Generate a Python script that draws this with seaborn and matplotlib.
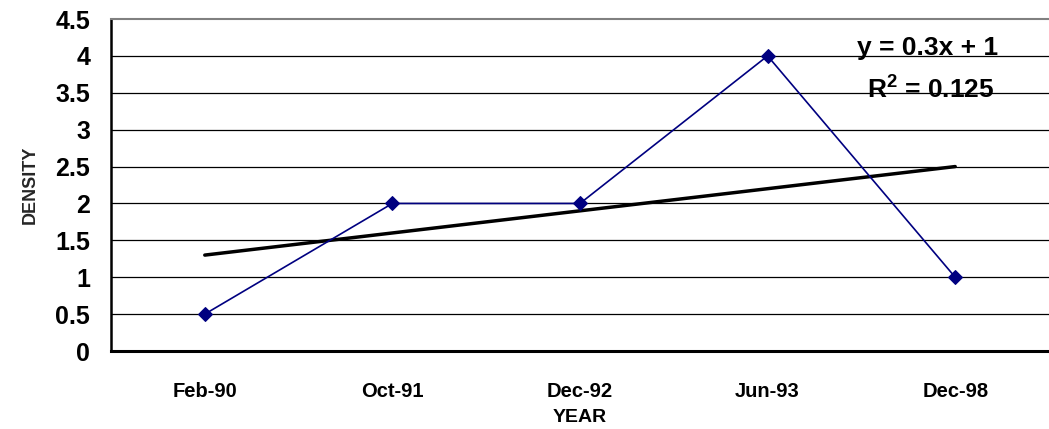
import numpy as np
import pandas as pd
from matplotlib import pyplot as plt
from matplotlib.ticker import FixedLocator, FixedFormatter
import seaborn as sns

sns.set_style("white")
plt.rcParams['font.family'] = ['Liberation Sans', 'DejaVu Sans']
plt.rcParams['font.weight'] = 'bold'
plt.rcParams['text.color'] = 'black'
plt.rcParams['axes.labelcolor'] = 'black'
plt.rcParams['xtick.color'] = 'black'
plt.rcParams['ytick.color'] = 'black'
plt.rcParams['mathtext.fontset'] = 'custom'
plt.rcParams['mathtext.bf'] = 'Liberation Sans:bold'
plt.rcParams['mathtext.rm'] = 'Liberation Sans:bold'
plt.rcParams['mathtext.default'] = 'bf'

years = ["Feb-90", "Oct-91", "Dec-92", "Jun-93", "Dec-98"]
density = [0.5, 2, 2, 4, 1]
pos = np.arange(1, len(years) + 1)

df = pd.DataFrame({"pos": pos, "DENSITY": density})

fig = plt.figure(figsize=(10.49, 4.29), dpi=100)
ax = fig.add_axes([0.1058, 0.1818, 0.8942, 0.7739])

# gridlines
for yv in np.arange(0.5, 4.5, 0.5):
    ax.axhline(yv, color="black", lw=0.9, zorder=0)

sns.lineplot(data=df, x="pos", y="DENSITY", color="#000080", lw=1.2,
             marker="D", markersize=7, markeredgecolor="#000080", ax=ax, zorder=3)

# linear trendline
sns.regplot(data=df, x="pos", y="DENSITY", scatter=False, ci=None, truncate=True,
            line_kws={"color": "black", "lw": 2.5}, ax=ax)

slope, intercept = np.polyfit(pos, density, 1)
r2 = np.corrcoef(pos, density)[0, 1] ** 2
ax.text(0.871, 0.913, f"y = {slope:.1f}x + {intercept:.0f}", transform=ax.transAxes,
        ha="center", va="center", fontsize=19, fontweight="bold")
ax.text(0.874, 0.786, f"R$^2$ = {r2:.3f}", transform=ax.transAxes,
        ha="center", va="center", fontsize=19, fontweight="bold")

ax.set_xlim(0.5, 5.5)
ax.set_ylim(0, 4.5)
ax.set_yticks(np.arange(0, 4.51, 0.5))
ax.set_yticklabels([f"{v:g}" for v in np.arange(0, 4.51, 0.5)], fontsize=18, fontweight="bold")

ax.xaxis.set_major_locator(FixedLocator(np.arange(0.5, 5.6, 1)))
ax.xaxis.set_major_formatter(FixedFormatter([""] * 6))
ax.xaxis.set_minor_locator(FixedLocator(pos))
ax.xaxis.set_minor_formatter(FixedFormatter(years))
ax.tick_params(axis="x", which="major", direction="out", length=5, width=1, color="black")
ax.tick_params(axis="x", which="minor", length=0, pad=22, labelsize=14.5)
ax.tick_params(axis="y", direction="out", length=9, width=1.2, color="black", pad=6)
for lab in ax.get_xticklabels(minor=True):
    lab.set_fontweight("bold")

ax.set_xlabel("YEAR", fontsize=14, fontweight="bold", labelpad=6)
ax.set_ylabel("DENSITY", fontsize=13, fontweight="bold", color="#262626", labelpad=12)

ax.spines["right"].set_visible(False)
ax.spines["top"].set_color("#808080")
ax.spines["top"].set_linewidth(1.5)
ax.spines["left"].set_color("black")
ax.spines["left"].set_linewidth(1.8)
ax.spines["bottom"].set_color("black")
ax.spines["bottom"].set_linewidth(2.2)

fig.savefig("out.png", dpi=100)
